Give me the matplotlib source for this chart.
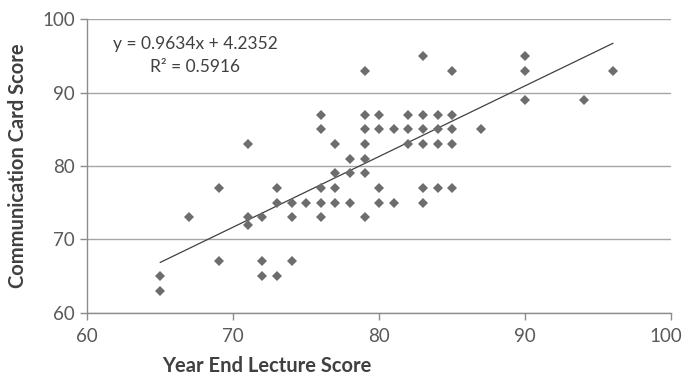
import numpy as np
import matplotlib
matplotlib.use('Agg')
import matplotlib.pyplot as plt
import matplotlib.transforms as mtransforms

plt.rcParams['font.family'] = ['Lato', 'DejaVu Sans']

# year-end lecture score vs communication card score, one point per student
lecture = [65,
           65, 72, 73,
           69, 72, 74,
           71,
           67, 71, 72, 74, 76, 79,
           73, 74, 75, 76, 77, 78, 80, 81, 83,
           69, 73, 76, 77, 80, 83, 84, 85,
           77, 78, 79,
           78, 79,
           71, 77, 79, 82, 83, 84, 85,
           76, 79, 80, 81, 82, 83, 84, 85, 87,
           76, 79, 80, 82, 83, 84, 85,
           90, 94,
           79, 85, 90, 96,
           83, 90]
card = ([63] +
        [65] * 3 +
        [67] * 3 +
        [72] +
        [73] * 6 +
        [75] * 9 +
        [77] * 8 +
        [79] * 3 +
        [81] * 2 +
        [83] * 7 +
        [85] * 9 +
        [87] * 7 +
        [89] * 2 +
        [93] * 4 +
        [95] * 2)

slope = 0.9634
intercept = 4.2352
r_squared = 0.5916

x_ticks = [60, 70, 80, 90, 100]
y_ticks = [60, 70, 80, 90, 100]

fig = plt.figure(figsize=(6.85, 3.76), dpi=100)
ax = fig.add_axes([0.1274, 0.1684, 0.8526, 0.7803])

grid_c = '#a6a6a6'
ax.set_xlim(60, 100)
ax.set_ylim(60, 100)
ax.set_xticks(x_ticks)
ax.set_yticks(y_ticks)
ax.yaxis.grid(True, color=grid_c, linewidth=1.0)
ax.set_axisbelow(True)
for s in ['top', 'right']:
    ax.spines[s].set_visible(False)
for s in ['left', 'bottom']:
    ax.spines[s].set_color('#8c8c8c')
    ax.spines[s].set_linewidth(1.0)
ax.tick_params(axis='both', direction='out', length=5, width=1.0,
               color='#8c8c8c', labelcolor='#595959', labelsize=13.5)
ax.tick_params(axis='y', pad=4)
ax.tick_params(axis='x', pad=6)

# keep the last x label inside the canvas
last = ax.get_xticklabels()[-1]
last.set_transform(last.get_transform() +
                   mtransforms.ScaledTranslation(-5 / 100, 0, fig.dpi_scale_trans))

ax.plot(lecture, card, linestyle='none', marker='D', markersize=5,
        color='#6d6d6d', markeredgewidth=0, clip_on=False, zorder=3)

# linear trendline over the observed range
xs = np.array([min(lecture), max(lecture)])
ax.plot(xs, slope * xs + intercept, color='#404040', linewidth=0.9, zorder=2)


# figure pixel coords are measured from the top, so flip y
def place(x, y_top, s, **kw):
    fig.text(x / 685, 1 - y_top / 376, s, **kw)


place(195, 44, f'y = {slope}x + {intercept}', ha='center', va='center',
      fontsize=12.5, color='#404040')
place(195, 67, f'R² = {r_squared}', ha='center', va='center',
      fontsize=12.5, color='#404040')

place(267, 366, 'Year End Lecture Score', ha='center', va='center',
      fontsize=14.5, fontweight='bold', color='#404040')
place(18, 166, 'Communication Card Score', ha='center', va='center',
      rotation=90, fontsize=14.5, fontweight='bold', color='#404040')

fig.savefig('out.png', dpi=100, facecolor='white')
